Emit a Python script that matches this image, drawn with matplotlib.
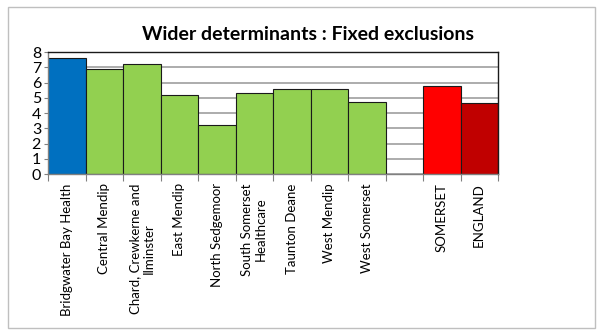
import matplotlib.pyplot as plt
from matplotlib.patches import Rectangle

# chart data
categories = ["Bridgwater Bay Health", "Central Mendip", "Chard, Crewkerne and\nIlminster",
              "East Mendip", "North Sedgemoor", "South Somerset\nHealthcare",
              "Taunton Deane", "West Mendip", "West Somerset", "", "SOMERSET", "ENGLAND"]
values = [7.6, 6.9, 7.2, 5.2, 3.2, 5.3, 5.55, 5.55, 4.7, 0, 5.75, 4.65]
colors = ["#0070C0"] + ["#92D050"] * 8 + ["none", "#FF0000", "#C00000"]
y_ticks = [0, 1, 2, 3, 4, 5, 6, 7, 8]

plt.rcParams['font.family'] = ['Lato', 'DejaVu Sans']

fig = plt.figure(figsize=(6.03, 3.36), dpi=100)
ax = fig.add_axes([48 / 603, 1 - 174 / 336, 450 / 603, 122 / 336])

x = list(range(len(categories)))
edges = ["#1a1a1a" if v > 0 else "none" for v in values]
ax.bar(x, values, width=1.0, color=colors, edgecolor=edges, linewidth=0.8, zorder=3)

ax.set_xlim(-0.5, len(categories) - 0.5)
ax.set_ylim(0, 8)
ax.set_yticks(y_ticks)
ax.tick_params(axis="y", labelsize=11.5, length=3, width=0.8, color="#808080", pad=2)
ax.grid(axis="y", color="#a6a6a6", linewidth=1.3, zorder=0)

# boundaries between categories as tick marks
ax.set_xticks([i - 0.5 for i in range(len(categories) + 1)])
ax.set_xticklabels([])
ax.tick_params(axis="x", length=5, width=0.8, color="#808080", direction="out")
for i, lab in enumerate(categories):
    ax.text(i, -0.6, lab, rotation=90, ha="center", va="top", fontsize=9.5,
            multialignment="center")

ax.spines["left"].set_color("#808080")
ax.spines["bottom"].set_color("#808080")
ax.spines["top"].set_color("#1a1a1a")
ax.spines["right"].set_color("#1a1a1a")
for s in ax.spines.values():
    s.set_linewidth(1.0)
    s.set_zorder(4)

fig.text(308 / 603, 1 - 34 / 336, "Wider determinants : Fixed exclusions", ha="center", va="center",
         fontsize=14, fontweight="bold")

# outer chart border
fig.patches.append(Rectangle((8 / 603, 1 - 328 / 336), 587 / 603, 321 / 336, transform=fig.transFigure,
                             fill=False, edgecolor="#bfbfbf", linewidth=1.0))

fig.savefig("out.png", dpi=100)
